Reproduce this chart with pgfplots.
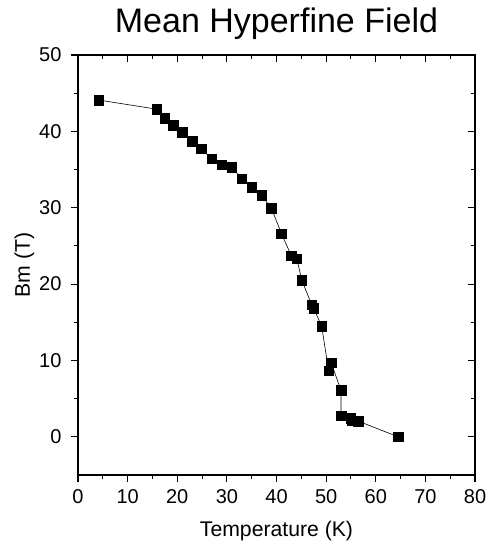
\documentclass[border=0pt]{standalone}
\usepackage{fontspec}
\setmainfont{Liberation Sans}
\usepackage{pgfplots}
\pgfplotsset{compat=1.18}
\begin{document}
\begin{tikzpicture}
\pgfplotsset{
  common/.style={
    width=397pt, height=420pt, scale only axis,
    xmin=0, xmax=80, ymin=-5, ymax=50,
    xtick={0,10,...,80}, ytick={0,10,...,50},
    minor x tick num=1, minor y tick num=1,
    axis line style={line width=1.4pt},
    major tick length=7pt, minor tick length=4pt,
    every tick/.style={black, line width=1.1pt},
    /pgf/number format/assume math mode=true,
  }
}
\begin{axis}[common,
    tick align=outside,
    xtick pos=bottom, ytick pos=left,
    ticklabel style={font=\fontsize{20}{20}\selectfont},
    xticklabel style={yshift=-4pt},
    yticklabel style={xshift=-6pt},
    xlabel={Temperature (K)}, ylabel={Bm (T)},
    xlabel style={font=\fontsize{21.2}{21.2}\selectfont, inner sep=0pt,
      at={(axis description cs:0.5,0)}, anchor=base, yshift=-61pt},
    ylabel style={font=\fontsize{21.2}{21.2}\selectfont, inner sep=0pt,
      at={([xshift=-48pt]axis description cs:0,0.5)}, anchor=base},
    title={Mean Hyperfine Field},
    title style={font=\fontsize{34}{34}\selectfont, inner sep=0pt,
      at={(axis description cs:0.5,1)}, anchor=base, yshift=16pt},
]
\addplot[black, line width=0.6pt, mark=square*, mark size=4.8pt,
  mark options={solid, fill=black}] coordinates {
(4.2,44.1) (15.9,42.9) (17.5,41.7) (19.2,40.8) (21.0,39.9) (23.0,38.7)
(24.9,37.7) (27.0,36.4) (29.0,35.6) (31.0,35.3) (33.0,33.8) (35.0,32.7)
(37.0,31.6) (39.0,29.9) (41.0,26.6) (43.0,23.7) (44.1,23.3) (45.1,20.5)
(47.1,17.3) (47.5,16.8) (49.1,14.5) (50.5,8.65) (51.0,9.7) (53.0,6.1)
(53.0,2.75) (55.0,2.45) (55.2,2.1) (56.5,2.05) (64.5,0)
};
\coordinate (ll) at (rel axis cs:0,0);
\coordinate (ur) at (rel axis cs:1,1);
\end{axis}
\begin{axis}[common,
    tick align=inside,
    xtick pos=top, ytick pos=right,
    xticklabels={}, yticklabels={},
]
\end{axis}
\path[draw=none] ([shift={(-78pt,-66pt)}]ll) rectangle ([shift={(13pt,55pt)}]ur);
\end{tikzpicture}
\end{document}
